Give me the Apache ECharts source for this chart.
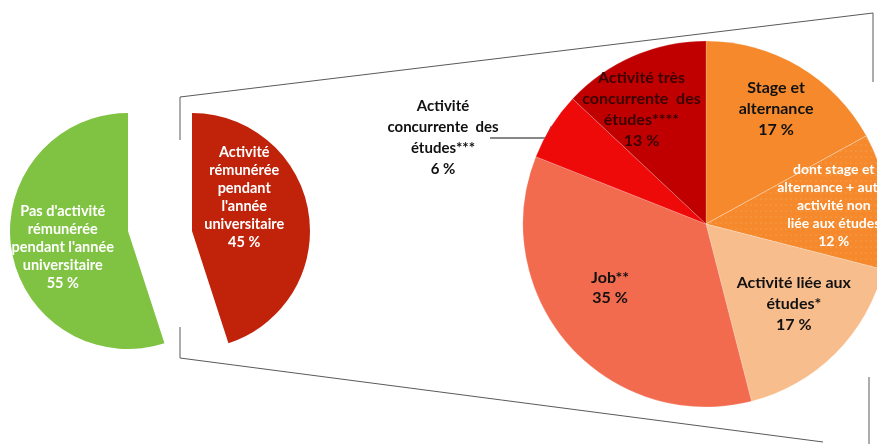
<!DOCTYPE html>
<html>
<head>
<meta charset="utf-8">
<script src="https://cdn.jsdelivr.net/npm/echarts@6/dist/echarts.min.js"></script>
<style>
html,body{margin:0;padding:0;background:#fff;}
#chart{width:877px;height:444px;}
</style>
</head>
<body>
<div id="chart"></div>
<script>
// ---- data ----
const leftNames = ["Pas d'activité\nrémunérée\npendant l'année\nuniversitaire", "Activité\nrémunérée\npendant\nl'année\nuniversitaire"];
const leftValues = [55, 45];

const rightNames = [
  "Stage et\nalternance",
  "dont stage et\nalternance + autre\nactivité non\nliée aux études",
  "Activité liée aux\nétudes*",
  "Job**",
  "Activité\nconcurrente  des\nétudes***",
  "Activité très\nconcurrente  des\nétudes****"
];
const rightValues = [17, 12, 17, 35, 6, 13];

// ---- styles ----
const FONT = 'Lato';
const leftColors = ['#80C342', '#C0220A'];
const rightColors = ['#F5892B', '#F5892B', '#F8BD8C', '#F26B4F', '#EF0A0A', '#C00000'];
const rightLabelColors = ['#111', '#fff', '#111', '#111', '#111', '#3a0000'];
const rightLabelOffsets = [[22, -34], [34, -7], [21, 13], [-25, 1], [0, 0], [-27, -28]];
const rightLabelSizes = [16, 14, 16, 16, 15, 16];
const rightLineHeights = [21, 18, 21, 20, 21, 21];

const chart = echarts.init(document.getElementById('chart'), null, {renderer: 'canvas'});

const fmt = p => p.name + '\n' + p.value + ' %';

// left pie: green part (series 0) and exploded red part (series 1)
const greenData = [
  {value: leftValues[1], name: '', itemStyle: {color: 'rgba(0,0,0,0)'}, label: {show: false}, labelLine: {show: false}},
  {value: leftValues[0], name: leftNames[0], itemStyle: {color: leftColors[0]}}
];
const redData = [
  {value: leftValues[1], name: leftNames[1], itemStyle: {color: leftColors[1]}},
  {value: leftValues[0], name: '', itemStyle: {color: 'rgba(0,0,0,0)'}, label: {show: false}, labelLine: {show: false}}
];

const rightData = rightValues.map((v, i) => {
  const item = {
    value: v,
    name: rightNames[i],
    itemStyle: {color: rightColors[i]},
    label: {color: rightLabelColors[i], fontSize: rightLabelSizes[i], lineHeight: rightLineHeights[i]}
  };
  if (i === 1) {
    item.itemStyle.decal = {
      symbol: 'circle',
      symbolSize: 0.5,
      color: 'rgba(255,230,200,0.55)',
      dashArrayX: [[2, 3]],
      dashArrayY: [2, 4],
      rotation: 0
    };
  }
  if (i === 4) {
    item.label.position = 'outside';
    item.labelLine = {show: true, length: 4, length2: 40, lineStyle: {color: '#111', width: 1}};
  }
  return item;
});

const option = {
  animation: false,
  backgroundColor: '#fff',
  aria: {enabled: true, decal: {show: false}},
  graphic: [
    {type: 'polyline', z: 0, silent: true, shape: {points: [[180, 140], [180, 97], [873, 13], [873, 82]]}, style: {stroke: '#5a5a5a', lineWidth: 1, fill: null}},
    {type: 'polyline', z: 0, silent: true, shape: {points: [[180, 327], [180, 358], [823, 442]]}, style: {stroke: '#5a5a5a', lineWidth: 1, fill: null}},
    {type: 'line', z: 0, silent: true, shape: {x1: 869, y1: 377, x2: 869, y2: 444}, style: {stroke: '#5a5a5a', lineWidth: 1}}
  ],
  series: [
    {
      type: 'pie', silent: true, center: [128, 231], radius: 118, startAngle: 90, clockwise: true,
      label: {show: true, position: 'inside', formatter: fmt, color: '#fff', fontFamily: FONT, fontWeight: 'bold', fontSize: 14.5, lineHeight: 18, align: 'center'},
      labelLine: {show: false},
      labelLayout: p => (p.dataIndex === 1 ? {dx: -4, dy: 7} : {}),
      data: greenData
    },
    {
      type: 'pie', silent: true, center: [192, 231], radius: 118, startAngle: 90, clockwise: true,
      label: {show: true, position: 'inside', formatter: fmt, color: '#fff', fontFamily: FONT, fontWeight: 'bold', fontSize: 14.5, lineHeight: 18, align: 'center'},
      labelLine: {show: false},
      labelLayout: p => (p.dataIndex === 0 ? {dx: -9, dy: -24} : {}),
      data: redData
    },
    {
      type: 'pie', silent: true, center: [706, 224], radius: 183, startAngle: 90, clockwise: true,
      itemStyle: {borderColor: 'rgba(255,255,255,0.3)', borderWidth: 0.6},
      label: {show: true, position: 'inside', formatter: fmt, fontFamily: FONT, fontWeight: 'bold', align: 'center'},
      labelLine: {show: false},
      labelLayout: function (p) {
        if (p.dataIndex === 4) {
          const pts = p.labelLinePoints || [[551, 127]];
          const s = pts[0];
          return {
            x: 443, y: 138, align: 'center', verticalAlign: 'middle',
            labelLinePoints: [[s[0], s[1]], [s[0] - 6, 138], [490, 138]]
          };
        }
        const o = rightLabelOffsets[p.dataIndex];
        return {dx: o[0], dy: o[1]};
      },
      data: rightData
    }
  ]
};
chart.setOption(option);
</script>
</body>
</html>
